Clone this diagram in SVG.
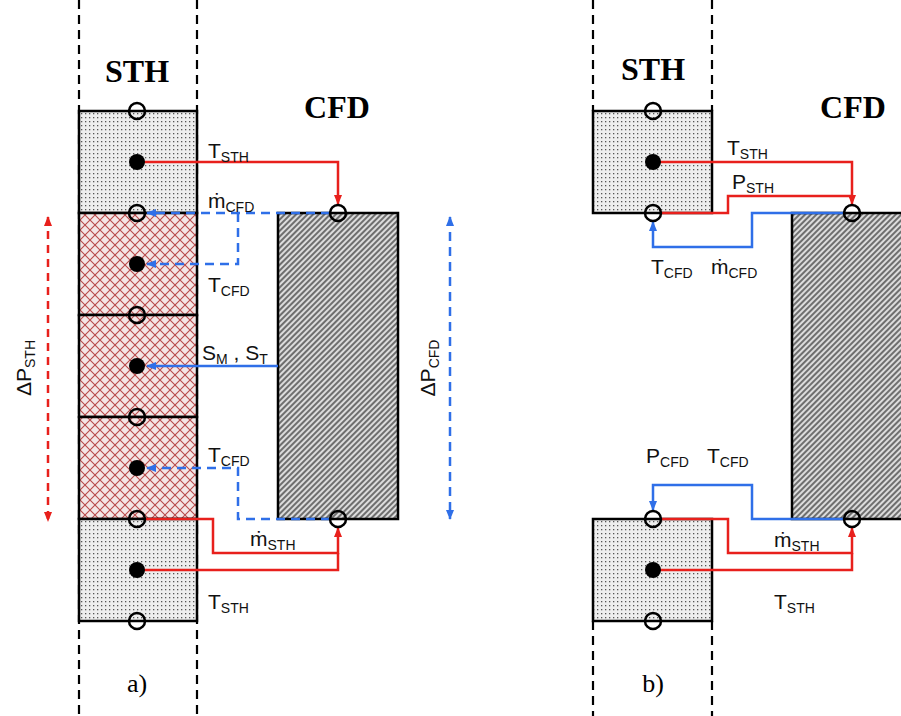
<svg xmlns="http://www.w3.org/2000/svg" width="901" height="716" viewBox="0 0 901 716">
<defs>
<pattern id="dots" width="4" height="4" patternUnits="userSpaceOnUse"><rect width="4" height="4" fill="#eeeeee"/><rect x="1" y="1" width="1.3" height="1.3" fill="#555"/></pattern>
<pattern id="cross" width="10" height="10" patternUnits="userSpaceOnUse"><rect width="10" height="10" fill="#f4e6e6"/><path d="M0 0L10 10M10 0L0 10" stroke="#b84a4a" stroke-width="1.1"/></pattern>
<pattern id="hatch" width="4" height="4" patternUnits="userSpaceOnUse" patternTransform="rotate(45)"><rect width="4" height="4" fill="#dcdcdc"/><line x1="1" y1="0" x2="1" y2="4" stroke="#333" stroke-width="1.3"/></pattern>
<marker id="ar" markerWidth="10" markerHeight="10" refX="9" refY="5" orient="auto" markerUnits="userSpaceOnUse"><path d="M0 1L10 5L0 9Z" fill="#e8201c"/></marker>
<marker id="ab" markerWidth="10" markerHeight="10" refX="9" refY="5" orient="auto" markerUnits="userSpaceOnUse"><path d="M0 1L10 5L0 9Z" fill="#2f6fe8"/></marker>
<marker id="arS" markerWidth="10" markerHeight="10" refX="1" refY="5" orient="auto" markerUnits="userSpaceOnUse"><path d="M10 1L0 5L10 9Z" fill="#e8201c"/></marker>
<marker id="abS" markerWidth="10" markerHeight="10" refX="1" refY="5" orient="auto" markerUnits="userSpaceOnUse"><path d="M10 1L0 5L10 9Z" fill="#2f6fe8"/></marker>
</defs>
<style>
.bd{fill:none;stroke:#000;stroke-width:2.5}
.dl{stroke:#000;stroke-width:2.2;stroke-dasharray:9 6;fill:none}
.oc{fill:none;stroke:#000;stroke-width:2.5}
.fc{fill:#000}
.red{fill:none;stroke:#e8201c;stroke-width:2.5}
.blu{fill:none;stroke:#2f6fe8;stroke-width:2.5}
.bld{fill:none;stroke:#2f6fe8;stroke-width:2.5;stroke-dasharray:9 6}
.rdd{fill:none;stroke:#e8201c;stroke-width:2.5;stroke-dasharray:8 6}
.lb{font-family:"Liberation Sans",Arial,sans-serif;font-size:21px;fill:#111}
.sb{font-size:14px}
.ti{font-family:"Liberation Serif","Times New Roman",serif;font-size:32px;font-weight:bold;fill:#000;text-anchor:middle}
.cap{font-family:"Liberation Serif","Times New Roman",serif;font-size:26px;fill:#000;text-anchor:middle}
</style>

<g id="guides">
<line class="dl" x1="79" y1="0" x2="79" y2="716"/>
<line class="dl" x1="197" y1="0" x2="197" y2="716"/>
<line class="dl" x1="593" y1="0" x2="593" y2="111"/>
<line class="dl" x1="712" y1="0" x2="712" y2="111"/>
<line class="dl" x1="593" y1="621" x2="593" y2="716"/>
<line class="dl" x1="712" y1="621" x2="712" y2="716"/>
</g>

<g id="titles">
<text class="ti" x="137" y="82">STH</text>
<text class="ti" x="337" y="118">CFD</text>
<text class="ti" x="653" y="80">STH</text>
<text class="ti" x="853" y="118">CFD</text>
<text class="cap" x="137" y="692">a)</text>
<text class="cap" x="653" y="692">b)</text>
</g>

<g id="a-sth1"><rect x="79" y="111" width="118" height="102" fill="url(#dots)"/><rect class="bd" x="79" y="111" width="118" height="102"/></g>
<g id="a-ov1"><rect x="79" y="213" width="118" height="102" fill="url(#cross)"/><rect class="bd" x="79" y="213" width="118" height="102"/></g>
<g id="a-ov2"><rect x="79" y="315" width="118" height="102" fill="url(#cross)"/><rect class="bd" x="79" y="315" width="118" height="102"/></g>
<g id="a-ov3"><rect x="79" y="417" width="118" height="102" fill="url(#cross)"/><rect class="bd" x="79" y="417" width="118" height="102"/></g>
<g id="a-sth2"><rect x="79" y="519" width="118" height="102" fill="url(#dots)"/><rect class="bd" x="79" y="519" width="118" height="102"/></g>
<g id="a-cfd"><rect x="278" y="213" width="120" height="306" fill="url(#hatch)"/><rect class="bd" x="278" y="213" width="120" height="306"/></g>

<g id="b-sth1"><rect x="593" y="111" width="119" height="102" fill="url(#dots)"/><rect class="bd" x="593" y="111" width="119" height="102"/></g>
<g id="b-sth2"><rect x="593" y="519" width="119" height="102" fill="url(#dots)"/><rect class="bd" x="593" y="519" width="119" height="102"/></g>
<g id="b-cfd"><rect x="792" y="213" width="112" height="306" fill="url(#hatch)"/><path class="bd" d="M904 213H792V519H904"/></g>

<g id="connectors">
<path class="red" d="M137 162H338V204" marker-end="url(#ar)"/>
<path class="bld" d="M330 213H147" marker-end="url(#ab)"/>
<path class="bld" d="M238 213V264H147" marker-end="url(#ab)"/>
<path class="blu" d="M278 366H147" marker-end="url(#ab)"/>
<path class="bld" d="M330 519H238V468H147" marker-end="url(#ab)"/>
<path class="red" d="M145 519H213V553H338V528" marker-end="url(#ar)"/>
<path class="red" d="M137 570H338V553"/>
<path class="rdd" d="M48 217V521" marker-start="url(#arS)" marker-end="url(#ar)"/>
<path class="bld" d="M450 217V519" marker-start="url(#abS)" marker-end="url(#ab)"/>
<path class="red" d="M653 162H852V204" marker-end="url(#ar)"/>
<path class="red" d="M661 213H728V196H852"/>
<path class="blu" d="M844 213H752V247H653V222" marker-end="url(#ab)"/>
<path class="blu" d="M844 519H752V485H653V510" marker-end="url(#ab)"/>
<path class="red" d="M661 519H728V553H852V528" marker-end="url(#ar)"/>
<path class="red" d="M653 570H852V553"/>
</g>

<g id="ports">
<circle class="oc" cx="137" cy="111" r="8"/>
<circle class="oc" cx="137" cy="213" r="8"/>
<circle class="oc" cx="137" cy="315" r="8"/>
<circle class="oc" cx="137" cy="417" r="8"/>
<circle class="oc" cx="137" cy="519" r="8"/>
<circle class="oc" cx="137" cy="621" r="8"/>
<circle class="fc" cx="137" cy="162" r="8"/>
<circle class="fc" cx="137" cy="264" r="8"/>
<circle class="fc" cx="137" cy="366" r="8"/>
<circle class="fc" cx="137" cy="468" r="8"/>
<circle class="fc" cx="137" cy="570" r="8"/>
<circle class="oc" cx="338" cy="213" r="8"/>
<circle class="oc" cx="338" cy="519" r="8"/>
<circle class="oc" cx="653" cy="111" r="8"/>
<circle class="oc" cx="653" cy="213" r="8"/>
<circle class="fc" cx="653" cy="162" r="8"/>
<circle class="oc" cx="653" cy="519" r="8"/>
<circle class="oc" cx="653" cy="621" r="8"/>
<circle class="fc" cx="653" cy="570" r="8"/>
<circle class="oc" cx="852" cy="213" r="8"/>
<circle class="oc" cx="852" cy="519" r="8"/>
</g>

<g id="labels">
<text class="lb" x="208" y="158">T<tspan class="sb" dy="4">STH</tspan></text>
<text class="lb" x="208" y="208">ṁ<tspan class="sb" dy="4">CFD</tspan></text>
<text class="lb" x="208" y="292">T<tspan class="sb" dy="4">CFD</tspan></text>
<text class="lb" x="202" y="360">S<tspan class="sb" dy="4">M</tspan><tspan dy="-4"> , S</tspan><tspan class="sb" dy="4">T</tspan></text>
<text class="lb" x="208" y="462">T<tspan class="sb" dy="4">CFD</tspan></text>
<text class="lb" x="250" y="546">ṁ<tspan class="sb" dy="4">STH</tspan></text>
<text class="lb" x="208" y="609">T<tspan class="sb" dy="4">STH</tspan></text>
<text class="lb" transform="translate(31 368) rotate(-90)" text-anchor="middle">ΔP<tspan class="sb" dy="4">STH</tspan></text>
<text class="lb" transform="translate(435 368) rotate(-90)" text-anchor="middle">ΔP<tspan class="sb" dy="4">CFD</tspan></text>
<text class="lb" x="727" y="155">T<tspan class="sb" dy="4">STH</tspan></text>
<text class="lb" x="732" y="189">P<tspan class="sb" dy="4">STH</tspan></text>
<text class="lb" x="651" y="274">T<tspan class="sb" dy="4">CFD</tspan></text>
<text class="lb" x="711" y="274">ṁ<tspan class="sb" dy="4">CFD</tspan></text>
<text class="lb" x="646" y="463">P<tspan class="sb" dy="4">CFD</tspan></text>
<text class="lb" x="707" y="463">T<tspan class="sb" dy="4">CFD</tspan></text>
<text class="lb" x="774" y="547">ṁ<tspan class="sb" dy="4">STH</tspan></text>
<text class="lb" x="774" y="609">T<tspan class="sb" dy="4">STH</tspan></text>
</g>
</svg>
